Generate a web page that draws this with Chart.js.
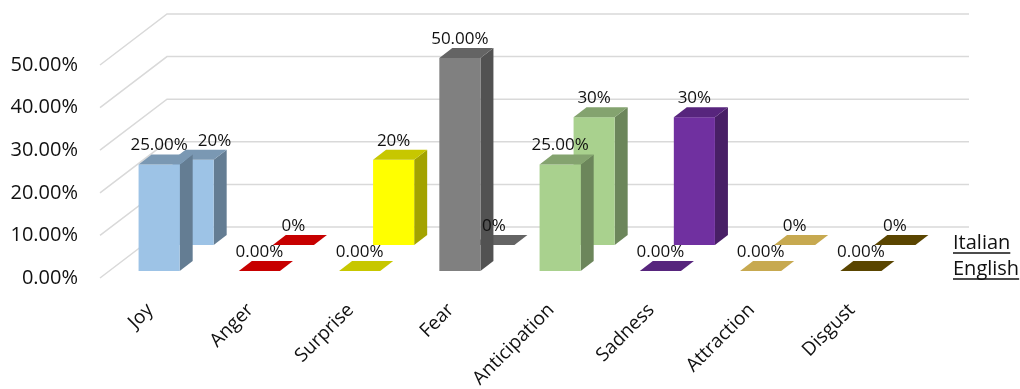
<!DOCTYPE html>
<html>
<head>
<meta charset="utf-8">
<script src="https://cdn.jsdelivr.net/npm/chart.js@4.4.1/dist/chart.umd.min.js"></script>
<style>
  html, body { margin: 0; padding: 0; background: #fff; }
</style>
</head>
<body>
<canvas id="emotionChart" width="1020" height="389"></canvas>
<script>
const categories = ['Joy', 'Anger', 'Surprise', 'Fear', 'Anticipation', 'Sadness', 'Attraction', 'Disgust'];
const englishValues = [0.25, 0, 0, 0.5, 0.25, 0, 0, 0];
const italianValues = [0.2, 0, 0.2, 0, 0.3, 0.3, 0, 0];
const seriesNames = ['English', 'Italian'];
const yTicks = [0, 0.1, 0.2, 0.3, 0.4, 0.5];
const barColors = ['#9dc3e6', '#ff0000', '#ffff00', '#808080', '#a9d18e', '#7030a0', '#ffd966', '#735800'];

// fake 3d geometry (pixels)
const WALL = { dx: 67, dy: -51 };          // full depth to the back wall
const SERIES_DEPTH = [{ dx: 9, dy: -7 }, { dx: 43, dy: -33 }]; // English front, Italian behind
const BAR_DEPTH = { dx: 13, dy: -10 };
const TEXT = '#111111';

function shade(hex, f) {
  const n = parseInt(hex.slice(1), 16);
  const r = Math.round(((n >> 16) & 255) * f);
  const g = Math.round(((n >> 8) & 255) * f);
  const b = Math.round((n & 255) * f);
  return `rgb(${r},${g},${b})`;
}

function drawBox(ctx, x0, x1, yTop, yBase, color) {
  const { dx, dy } = BAR_DEPTH;
  // side face
  ctx.fillStyle = shade(color, 0.64);
  ctx.beginPath();
  ctx.moveTo(x1, yTop);
  ctx.lineTo(x1 + dx, yTop + dy);
  ctx.lineTo(x1 + dx, yBase + dy);
  ctx.lineTo(x1, yBase);
  ctx.closePath();
  ctx.fill();
  // front face
  if (yBase - yTop > 0.5) {
    ctx.fillStyle = color;
    ctx.fillRect(x0, yTop, x1 - x0, yBase - yTop);
  }
  // top face
  ctx.fillStyle = shade(color, 0.78);
  ctx.beginPath();
  ctx.moveTo(x0, yTop);
  ctx.lineTo(x0 + dx, yTop + dy);
  ctx.lineTo(x1 + dx, yTop + dy);
  ctx.lineTo(x1, yTop);
  ctx.closePath();
  ctx.fill();
}

const cubePlugin = {
  id: 'cubes',
  beforeDatasetsDraw(chart) {
    const ctx = chart.ctx;
    const area = chart.chartArea;
    const yScale = chart.scales.y;
    ctx.save();

    // side wall + back wall gridlines
    ctx.strokeStyle = '#d9d9d9';
    ctx.lineWidth = 1.5;
    yTicks.forEach(v => {
      const py = yScale.getPixelForValue(v);
      ctx.beginPath();
      ctx.moveTo(area.left, py);
      ctx.lineTo(area.left + WALL.dx, py + WALL.dy);
      ctx.lineTo(area.right + WALL.dx, py + WALL.dy);
      ctx.stroke();
    });

    // bars, back row first
    [1, 0].forEach(di => {
      const meta = chart.getDatasetMeta(di);
      const off = SERIES_DEPTH[di];
      meta.data.forEach((el, i) => {
        const half = el.width / 2;
        drawBox(ctx, el.x - half + off.dx, el.x + half + off.dx,
          el.y + off.dy, el.base + off.dy, barColors[i]);
      });
    });

    // value labels; a back label that would hit the front one is pushed right
    ctx.fillStyle = TEXT;
    ctx.font = "17px 'Open Sans'";
    ctx.textAlign = 'center';
    ctx.textBaseline = 'middle';
    const boxes = [];
    [0, 1].forEach(di => {
      const meta = chart.getDatasetMeta(di);
      const off = SERIES_DEPTH[di];
      const vals = chart.data.datasets[di].data;
      const dec = di === 0 ? 2 : 0;
      meta.data.forEach((el, i) => {
        const txt = (vals[i] * 100).toFixed(dec) + '%';
        const w = ctx.measureText(txt).width;
        let cx = el.x + off.dx;
        const cy = el.y + off.dy - 19;
        if (di === 1 && boxes[i]) {
          const f = boxes[i];
          if (Math.abs(cy - f.cy) < 16 && cx - w / 2 < f.cx + f.w / 2 + 10) {
            cx = f.cx + f.w / 2 + 10 + w / 2;
          }
        }
        if (di === 0) boxes[i] = { cx, cy, w };
        ctx.fillText(txt, cx, cy);
      });
    });

    // series (depth axis) names
    ctx.font = "20px 'Open Sans'";
    ctx.textAlign = 'left';
    ctx.textBaseline = 'middle';
    ctx.strokeStyle = TEXT;
    ctx.lineWidth = 1.5;
    [1, 0].forEach(di => {
      const off = SERIES_DEPTH[di];
      const py = yScale.getPixelForValue(0) + off.dy - 2;
      const px = area.right + 51;
      const name = seriesNames[di];
      ctx.fillText(name, px, py);
      const w = ctx.measureText(name).width;
      ctx.beginPath();
      ctx.moveTo(px, py + 10);
      ctx.lineTo(px + w, py + 10);
      ctx.stroke();
    });

    ctx.restore();
    return false;
  }
};

Chart.defaults.font.family = "'Open Sans', sans-serif";
Chart.defaults.color = TEXT;

new Chart(document.getElementById('emotionChart'), {
  type: 'bar',
  data: {
    labels: categories,
    datasets: [
      { label: seriesNames[0], data: englishValues, backgroundColor: barColors, grouped: false },
      { label: seriesNames[1], data: italianValues, backgroundColor: barColors, grouped: false }
    ]
  },
  options: {
    responsive: false,
    animation: false,
    layout: { padding: { left: 0, right: 118, top: 65, bottom: 0 } },
    datasets: { bar: { barPercentage: 0.41, categoryPercentage: 1 } },
    plugins: { legend: { display: false }, tooltip: { enabled: false } },
    scales: {
      x: {
        grid: { display: false, drawTicks: false },
        border: { display: false },
        ticks: { font: { size: 19 }, minRotation: 45, maxRotation: 45, autoSkip: false, padding: 21 },
        afterFit: s => { s.height = 111; }
      },
      y: {
        min: 0,
        max: 0.5,
        grid: { display: false, drawTicks: false },
        border: { display: false },
        ticks: {
          stepSize: 0.1,
          padding: 22,
          font: { size: 20 },
          callback: v => (v * 100).toFixed(2) + '%'
        },
        afterFit: s => { s.width = 100; }
      }
    }
  },
  plugins: [cubePlugin]
});
</script>
</body>
</html>
